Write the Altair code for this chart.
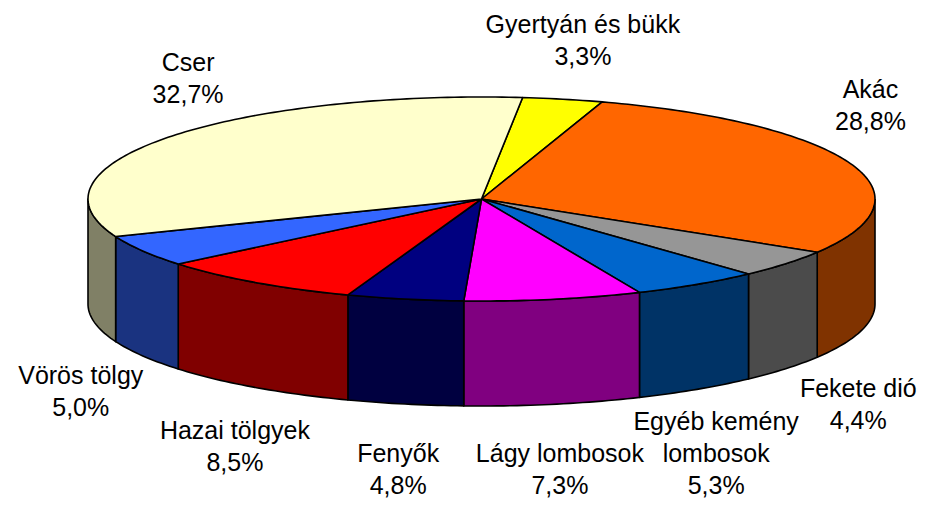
import math
import textwrap
import altair as alt
import pandas as pd

# ---- data ----
categories = ["Gyertyán és bükk", "Akác", "Fekete dió", "Egyéb kemény lombosok",
              "Lágy lombosok", "Fenyők", "Hazai tölgyek", "Vörös tölgy", "Cser"]
shares = [3.3, 28.8, 4.4, 5.3, 7.3, 4.8, 8.5, 5.0, 32.7]
top_colors = ["#FFFF00", "#FF6600", "#969696", "#0066CC", "#FF00FF",
              "#000080", "#FF0000", "#3366FF", "#FFFFCC"]
side_colors = ["#808000", "#803300", "#4B4B4B", "#003366", "#800080",
               "#000040", "#800000", "#1A3380", "#808066"]

# ---- 3D pie geometry (unit radius = 393.5 px) ----
R_PX = 393.5
START = 6.0                 # first slice starts slightly right of 12 o'clock
TILT = 102 / R_PX           # vertical squash of the top face
DEPTH = 105 / R_PX          # thickness of the pie
FONT = 25
LINE_H = 32
PX = 1.0 / R_PX             # one pixel in data units

W, H = 925, 490
XMIN = -(481.5 - 8) / R_PX
XMAX = XMIN + W / R_PX
YMAX = (199 - 8) / R_PX
YMIN = YMAX - H / R_PX
LOWEST_LINE = YMIN + 12 * PX   # keep the last text line inside the drawing

total = sum(shares)


def arc_pts(a0, a1, step=1.0):
    n = max(2, int(math.ceil((a1 - a0) / step)))
    return [a0 + (a1 - a0) * k / n for k in range(n + 1)]


top_rows, side_rows, label_rows = [], [], []
cum = 0.0
for i, (name, v) in enumerate(zip(categories, shares)):
    a0 = START + 360.0 * cum / total
    a1 = START + 360.0 * (cum + v) / total
    cum += v
    # top face
    pts = [(0.0, 0.0)]
    for a in arc_pts(a0, a1):
        r = math.radians(a)
        pts.append((math.sin(r), TILT * math.cos(r)))
    pts.append((0.0, 0.0))
    for k, (x, y) in enumerate(pts):
        top_rows.append({"poly": f"t{i}", "idx": k, "x": x, "y": y, "color": top_colors[i]})
    # side face (front half only)
    lo, hi = max(a0, 90.0), min(a1, 270.0)
    if hi > lo:
        angs = arc_pts(lo, hi)
        spts = []
        for a in angs:
            r = math.radians(a)
            spts.append((math.sin(r), TILT * math.cos(r)))
        for a in reversed(angs):
            r = math.radians(a)
            spts.append((math.sin(r), TILT * math.cos(r) - DEPTH))
        spts.append(spts[0])
        for k, (x, y) in enumerate(spts):
            side_rows.append({"poly": f"s{i}", "idx": k, "x": x, "y": y, "color": side_colors[i]})
    # label, placed from the slice's outer edge at its mid angle
    mid = math.radians((a0 + a1) / 2)
    s, c = math.sin(mid), math.cos(mid)
    pct = f"{v:.1f}".replace(".", ",") + "%"
    lines = textwrap.wrap(name, 16) + [pct]
    half_w = 0.5 * max(len(t) for t in lines) * 0.5 * FONT
    ex, ey = s, TILT * c
    if c < 0:   # front: below the pie wall
        ey -= DEPTH
        if abs(s) > 0.7:
            lx = ex + math.copysign(10 + half_w, s) * PX
            first_y = ey - 20 * PX
        else:
            lx = ex + 35 * s * PX
            first_y = ey - (40 * abs(c) + 11) * PX
        last_y = first_y - (len(lines) - 1) * LINE_H * PX
        if last_y < LOWEST_LINE:
            first_y += LOWEST_LINE - last_y
    else:       # back: above the rim
        lx = ex + 20 * PX
        first_y = ey + (42 + (len(lines) - 1) * LINE_H) * PX
    # keep the label block inside the drawing horizontally
    lx = min(max(lx, XMIN + (half_w + 4) * PX), XMAX - (half_w + 4) * PX)
    label_rows.append({"x": lx, "y": first_y, "text": "\n".join(lines)})

df_top = pd.DataFrame(top_rows)
df_side = pd.DataFrame(side_rows)
df_lab = pd.DataFrame(label_rows)

xs = alt.Scale(domain=[XMIN, XMAX], nice=False, zero=False)
ys = alt.Scale(domain=[YMIN, YMAX], nice=False, zero=False)


def faces(df):
    return alt.Chart(df).mark_line(
        stroke="black", strokeWidth=1.6, strokeJoin="round"
    ).encode(
        x=alt.X("x:Q", scale=xs, axis=None),
        y=alt.Y("y:Q", scale=ys, axis=None),
        detail="poly:N",
        order="idx:Q",
        fill=alt.Fill("color:N", scale=None),
    )


labels = alt.Chart(df_lab).mark_text(
    font="Liberation Sans", fontSize=FONT, lineHeight=LINE_H, lineBreak="\n",
    align="center", baseline="middle", color="black"
).encode(
    x=alt.X("x:Q", scale=xs, axis=None),
    y=alt.Y("y:Q", scale=ys, axis=None),
    text="text:N",
)

chart = alt.layer(faces(df_side), faces(df_top), labels).properties(
    width=W, height=H, autosize=alt.AutoSizeParams(type="none"), padding=0
).configure_view(stroke=None)

chart.save("out.html", embed_options={"renderer": "svg", "actions": False})
